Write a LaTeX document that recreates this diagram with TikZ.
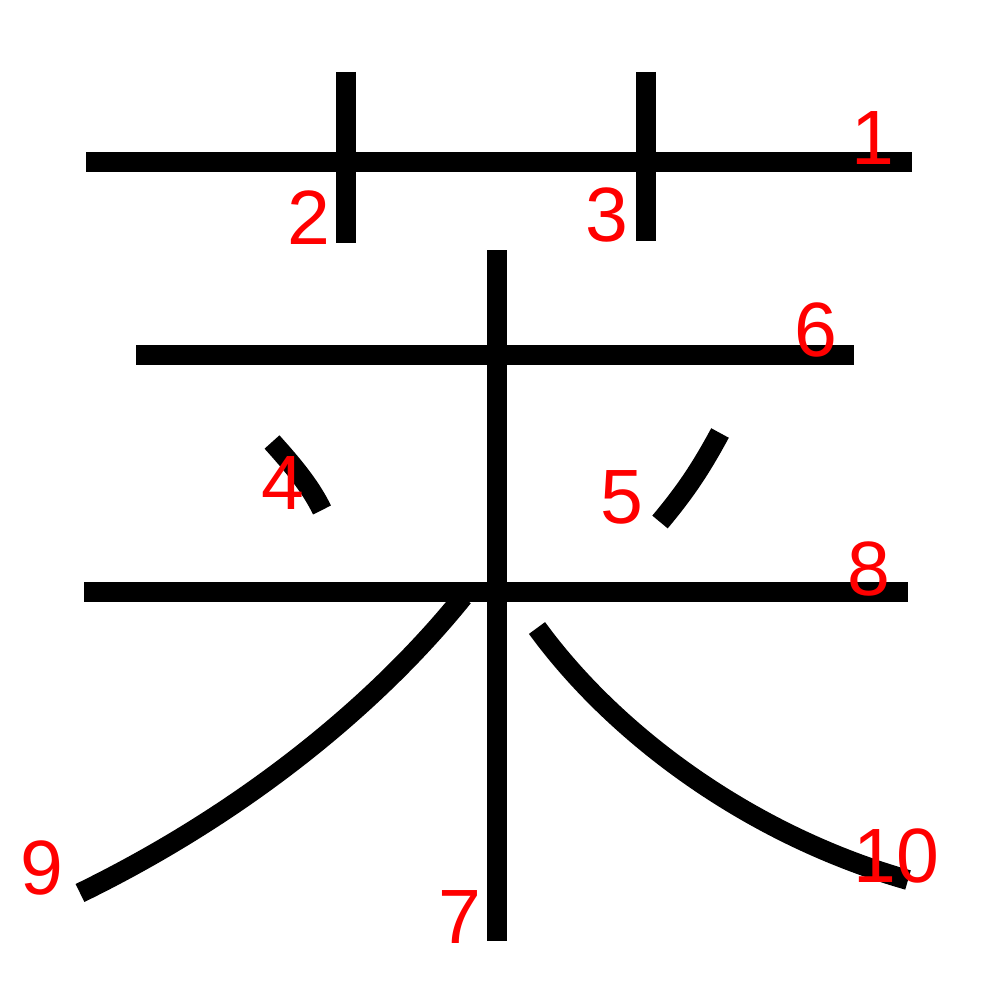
\documentclass[tikz,border=0pt]{standalone}
\usepackage{fontspec}
\setmainfont{Liberation Sans}
\begin{document}
\begin{tikzpicture}[x=1pt,y=-1pt,
  stroke/.style={line width=20pt,line cap=butt,black},
  num/.style={text=red,inner sep=0pt,anchor=center,font=\fontsize{77}{77}\selectfont}]
\useasboundingbox (0,0) rectangle (1000,1000);
% strokes
\draw[stroke] (86,162) -- (912,162);
\draw[stroke] (346,72) -- (346,243);
\draw[stroke] (646,72) -- (646,241);
\draw[stroke] (272,442) .. controls (290,462) and (310,485) .. (322,510);
\draw[stroke] (720,433) .. controls (700,470) and (685,492) .. (660,522);
\draw[stroke] (136,355) -- (854,355);
\draw[stroke] (497,250) -- (497,941);
\draw[stroke] (84,592) -- (908,592);
\draw[stroke] (463,597) .. controls (380,700) and (250,810) .. (80,893);
\draw[stroke] (537,628) .. controls (615,735) and (750,835) .. (908,880);
% labels
\node[num] (n1) at (873,138) {1};
\node[num] (n2) at (309,218) {2};
\node[num] (n3) at (607,215) {3};
\node[num] (n4) at (283,483) {4};
\node[num] (n5) at (622,497) {5};
\node[num] (n6) at (816,330) {6};
\node[num] (n7) at (460,917) {7};
\node[num] (n8) at (869,569) {8};
\node[num] (n9) at (42,868) {9};
\node[num] (n10) at (896,856) {10};
\end{tikzpicture}
\end{document}
